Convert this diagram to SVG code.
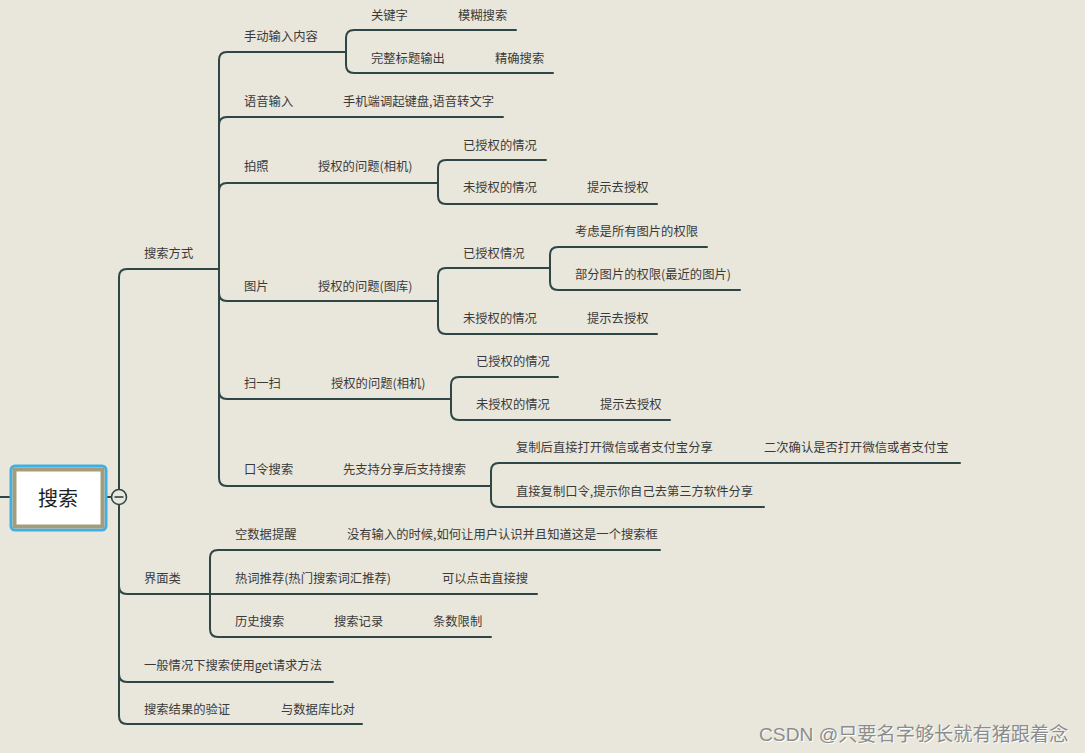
<svg xmlns="http://www.w3.org/2000/svg" width="1085" height="753" viewBox="0 0 1085 753">
<style>
.bg{fill:#e9e7dc}
.c{fill:none;stroke:#2e4646;stroke-width:2;stroke-linecap:round}
.t{font-family:"Noto Sans CJK SC","Noto Sans",sans-serif;font-size:12.3px;fill:#3a3a3a;dominant-baseline:central}
.wm{font-family:"Liberation Sans","Noto Sans CJK SC",sans-serif;font-size:19.2px;fill:#8c8c8c}
</style>
<rect class="bg" x="0" y="0" width="1085" height="753"/>
<g id="connectors">
<path class="c" d="M0,497 H12"/>
<path class="c" d="M106,497 H112"/>
<path class="c" d="M119,504 V716 Q119,724 127,724 H362"/>
<path class="c" d="M119,490 V277 Q119,269 127,269 H219"/>
<path class="c" d="M119,504 V586 Q119,594 127,594 H210"/>
<path class="c" d="M119,504 V674 Q119,682 127,682 H333"/>
<path class="c" d="M219,269 V60 Q219,52 227,52 H346"/>
<path class="c" d="M219,269 V125 Q219,117 227,117 H503"/>
<path class="c" d="M219,269 V191 Q219,183 227,183 H438"/>
<path class="c" d="M219,269 V293 Q219,301 227,301 H438"/>
<path class="c" d="M219,269 V391 Q219,399 227,399 H451"/>
<path class="c" d="M219,269 V478 Q219,486 227,486 H491"/>
<path class="c" d="M346,52 V38 Q346,30 354,30 H516"/>
<path class="c" d="M346,52 V65 Q346,73 354,73 H553"/>
<path class="c" d="M438,183 V168 Q438,160 446,160 H546"/>
<path class="c" d="M438,183 V196 Q438,204 446,204 H657"/>
<path class="c" d="M438,301 V276 Q438,268 446,268 H550"/>
<path class="c" d="M438,301 V326 Q438,334 446,334 H657"/>
<path class="c" d="M550,268 V255 Q550,247 558,247 H707"/>
<path class="c" d="M550,268 V282 Q550,290 558,290 H740"/>
<path class="c" d="M451,399 V385 Q451,377 459,377 H558"/>
<path class="c" d="M451,399 V412 Q451,420 459,420 H670"/>
<path class="c" d="M491,486 V471 Q491,463 499,463 H960"/>
<path class="c" d="M491,486 V499 Q491,507 499,507 H764"/>
<path class="c" d="M210,594 V558 Q210,550 218,550 H660"/>
<path class="c" d="M210,594 H537"/>
<path class="c" d="M210,594 V629 Q210,637 218,637 H491"/>
</g>
<g id="root">
<rect x="11" y="466" width="95" height="64" rx="4" fill="#ffffff" stroke="#3fb0e6" stroke-width="3"/>
<rect x="14.5" y="469.5" width="88" height="57" fill="#ffffff" stroke="#a39d7c" stroke-width="4"/>
<text x="58" y="497" text-anchor="middle" style="font-family:'Noto Sans CJK SC',sans-serif;font-size:20px;fill:#222;dominant-baseline:central">搜索</text>
</g>
<g id="collapse">
<circle cx="119" cy="497" r="7.5" fill="#e9e7dc" stroke="#2e4646" stroke-width="1.6"/>
<path d="M114.5,497 H123.5" stroke="#2e4646" stroke-width="1.6"/>
</g>
<g id="n-fangshi"><text class="t" x="144" y="253">搜索方式</text></g>
<g id="n-shoudong"><text class="t" x="244" y="36">手动输入内容</text></g>
<g id="n-guanjianzi"><text class="t" x="371" y="15">关键字</text><text class="t" x="458" y="15">模糊搜索</text></g>
<g id="n-wanzheng"><text class="t" x="371" y="58">完整标题输出</text><text class="t" x="495" y="58">精确搜索</text></g>
<g id="n-yuyin"><text class="t" x="244" y="101">语音输入</text><text class="t" x="343" y="101">手机端调起键盘,语音转文字</text></g>
<g id="n-paizhao"><text class="t" x="244" y="166">拍照</text><text class="t" x="318" y="166">授权的问题(相机)</text></g>
<g id="n-pz-yes"><text class="t" x="463" y="145">已授权的情况</text></g>
<g id="n-pz-no"><text class="t" x="463" y="187">未授权的情况</text><text class="t" x="587" y="187">提示去授权</text></g>
<g id="n-tupian"><text class="t" x="244" y="286">图片</text><text class="t" x="318" y="286">授权的问题(图库)</text></g>
<g id="n-tp-yes"><text class="t" x="463" y="253">已授权情况</text></g>
<g id="n-tp-all"><text class="t" x="575" y="231">考虑是所有图片的权限</text></g>
<g id="n-tp-part"><text class="t" x="575" y="274">部分图片的权限(最近的图片)</text></g>
<g id="n-tp-no"><text class="t" x="463" y="318">未授权的情况</text><text class="t" x="587" y="318">提示去授权</text></g>
<g id="n-saoyisao"><text class="t" x="244" y="383">扫一扫</text><text class="t" x="331" y="383">授权的问题(相机)</text></g>
<g id="n-sys-yes"><text class="t" x="476" y="361">已授权的情况</text></g>
<g id="n-sys-no"><text class="t" x="476" y="404">未授权的情况</text><text class="t" x="600" y="404">提示去授权</text></g>
<g id="n-kouling"><text class="t" x="244" y="469">口令搜索</text><text class="t" x="343" y="469">先支持分享后支持搜索</text></g>
<g id="n-kl-copy"><text class="t" x="516" y="447">复制后直接打开微信或者支付宝分享</text><text class="t" x="764" y="447">二次确认是否打开微信或者支付宝</text></g>
<g id="n-kl-direct"><text class="t" x="516" y="491">直接复制口令,提示你自己去第三方软件分享</text></g>
<g id="n-jiemian"><text class="t" x="144" y="578">界面类</text></g>
<g id="n-kong"><text class="t" x="235" y="534">空数据提醒</text><text class="t" x="347" y="534">没有输入的时候,如何让用户认识并且知道这是一个搜索框</text></g>
<g id="n-reci"><text class="t" x="235" y="578">热词推荐(热门搜索词汇推荐)</text><text class="t" x="442" y="578">可以点击直接搜</text></g>
<g id="n-lishi"><text class="t" x="235" y="621">历史搜索</text><text class="t" x="334" y="621">搜索记录</text><text class="t" x="433" y="621">条数限制</text></g>
<g id="n-get"><text class="t" x="144" y="665">一般情况下搜索使用get请求方法</text></g>
<g id="n-yanzheng"><text class="t" x="144" y="709">搜索结果的验证</text><text class="t" x="281" y="709">与数据库比对</text></g>
<g id="watermark">
<text class="wm" x="760" y="742" style="fill:#ffffff">CSDN @只要名字够长就有猪跟着念</text>
<text class="wm" x="759" y="741">CSDN @只要名字够长就有猪跟着念</text>
</g>
</svg>
